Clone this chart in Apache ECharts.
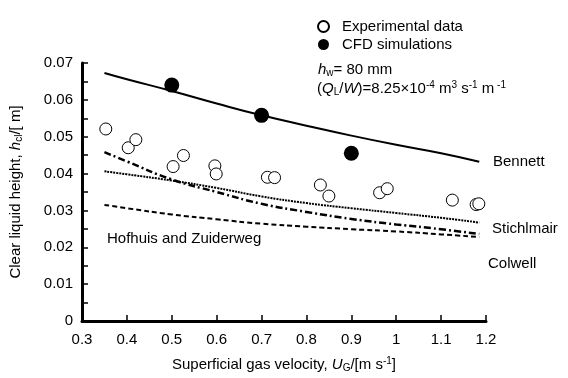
<!DOCTYPE html>
<html>
<head>
<meta charset="utf-8">
<script src="https://cdn.jsdelivr.net/npm/echarts@6/dist/echarts.min.js"></script>
<style>
  html, body { margin: 0; padding: 0; background: #fff; }
  #chart { width: 568px; height: 378px; }
</style>
</head>
<body>
<div id="chart"></div>
<script>
// experimental data (open circles)
const expX = [0.353, 0.403, 0.42, 0.503, 0.526, 0.596, 0.599, 0.713, 0.729, 0.831, 0.85, 0.963, 0.98, 1.125, 1.178, 1.184];
const expY = [0.0521, 0.047, 0.0492, 0.0419, 0.0449, 0.0421, 0.0399, 0.039, 0.0389, 0.0369, 0.0339, 0.0348, 0.0359, 0.0328, 0.0316, 0.0318];

// CFD simulations (filled circles)
const cfdX = [0.5, 0.7, 0.9];
const cfdY = [0.064, 0.0558, 0.0455];

// correlations
const corrX = [0.35, 0.4, 0.5, 0.6, 0.7, 0.8, 0.9, 1.0, 1.1, 1.185];
const bennett = [0.0673, 0.0656, 0.0624, 0.059, 0.0558, 0.053, 0.0503, 0.0478, 0.0455, 0.0432];
const stichlmair = [0.0406, 0.0398, 0.0381, 0.0361, 0.0338, 0.032, 0.0306, 0.0293, 0.028, 0.0267];
const colwell = [0.0458, 0.0433, 0.0384, 0.035, 0.0318, 0.0296, 0.0277, 0.0262, 0.0249, 0.0236];
const hofhuis = [0.0315, 0.0306, 0.0289, 0.0276, 0.0264, 0.0256, 0.0249, 0.0243, 0.0235, 0.0228];

const zip = (xs, ys) => xs.map((x, i) => [x, ys[i]]);
const font = 'Liberation Sans, Arial, sans-serif';
const fs = 15;

const rich = {
  i: { fontStyle: 'italic', fontSize: fs, fontFamily: font, color: '#000', lineHeight: 17 },
  sub: { fontSize: 10, fontFamily: font, color: '#000', lineHeight: 10, verticalAlign: 'bottom' },
  sup: { fontSize: 10, fontFamily: font, color: '#000', lineHeight: 10, verticalAlign: 'top' }
};

const chart = echarts.init(document.getElementById('chart'));

const lineSeries = (name, data, type, width) => ({
  name: name,
  type: 'line',
  data: zip(corrX, data),
  smooth: true,
  symbol: 'none',
  silent: true,
  lineStyle: { color: '#000', width: width, type: type }
});

const labelText = (text, left, top) => ({
  type: 'text',
  left: left,
  top: top,
  style: { text: text, font: fs + 'px ' + font, fill: '#000', rich: rich }
});

chart.setOption({
  animation: false,
  backgroundColor: '#fff',
  grid: { left: 81, right: 82, top: 63, bottom: 45.5 },
  legend: {
    data: ['Experimental data', 'CFD simulations'],
    orient: 'vertical',
    left: 312,
    top: 14,
    itemWidth: 11,
    itemHeight: 11,
    itemGap: 3,
    textStyle: { fontFamily: font, fontSize: fs, color: '#000', padding: [0, 0, 0, 8] }
  },
  xAxis: {
    type: 'value',
    min: 0.3,
    max: 1.2,
    interval: 0.1,
    name: 'Superficial gas velocity, {i|U}{sub|G}/[m s{sup|-1}]',
    nameLocation: 'middle',
    nameGap: 35,
    nameTextStyle: { fontFamily: font, fontSize: fs, color: '#000', rich: rich },
    axisLine: { lineStyle: { color: '#000', width: 3 } },
    axisTick: { inside: true, length: 6, lineStyle: { color: '#000', width: 1.5 } },
    axisLabel: { color: '#000', fontFamily: font, fontSize: fs, margin: 11 },
    splitLine: { show: false }
  },
  yAxis: {
    type: 'value',
    min: 0,
    max: 0.07,
    interval: 0.01,
    name: 'Clear liquid height, {i|h}{sub|cl}/[ m]',
    nameLocation: 'middle',
    nameGap: 58,
    nameTextStyle: { fontFamily: font, fontSize: fs, color: '#000', rich: rich },
    axisLine: { lineStyle: { color: '#000', width: 3 } },
    axisTick: { inside: true, length: 6, lineStyle: { color: '#000', width: 1.5 } },
    minorTick: { show: true, splitNumber: 2, length: 6, lineStyle: { color: '#000', width: 1.5 } },
    axisLabel: { color: '#000', fontFamily: font, fontSize: fs, margin: 9 },
    splitLine: { show: false }
  },
  graphic: [
    labelText('Bennett', 493, 154),
    labelText('Stichlmair', 492, 221),
    labelText('Colwell', 488, 256),
    labelText('Hofhuis and Zuiderweg', 107, 231),
    labelText('{i|h}{sub|w}= 80 mm', 318, 62),
    labelText('({i|Q}{sub|L}/{i|W})=8.25×10{sup|-4} m{sup|3} s{sup|-1} m{sup| -1}', 317, 80)
  ],
  series: [
    lineSeries('Bennett', bennett, 'solid', 2),
    lineSeries('Stichlmair', stichlmair, [2, 1], 2),
    lineSeries('Colwell', colwell, [7, 3, 2, 3], 2.5),
    lineSeries('Hofhuis and Zuiderweg', hofhuis, [5, 3], 2),
    {
      name: 'Experimental data',
      type: 'scatter',
      data: zip(expX, expY),
      symbol: 'circle',
      symbolSize: 12,
      itemStyle: { color: '#fff', borderColor: '#000', borderWidth: 1, opacity: 1 }
    },
    {
      name: 'CFD simulations',
      type: 'scatter',
      data: zip(cfdX, cfdY),
      symbol: 'circle',
      symbolSize: 15,
      itemStyle: { color: '#000', opacity: 1 }
    }
  ]
});
</script>
</body>
</html>
